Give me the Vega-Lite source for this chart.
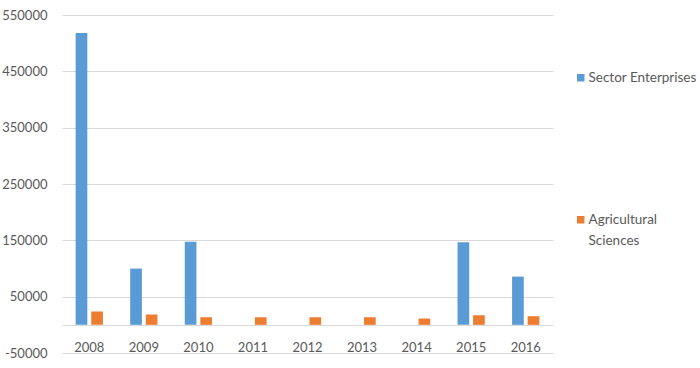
{
  "$schema": "https://vega.github.io/schema/vega-lite/v6.json",
  "width": 491,
  "height": 338,
  "autosize": "none",
  "padding": {"left": 62, "top": 15, "right": 147, "bottom": 15},
  "background": "white",
  "config": {
    "view": {"stroke": null},
    "font": "Lato",
    "style": {"guide-label": {"lineHeight": 21}},
    "axis": {"labelFont": "Lato", "labelFontSize": 13, "labelColor": "#595959", "ticks": false, "title": null, "gridColor": "#D9D9D9", "domainColor": "#D9D9D9"},
    "legend": {"labelFont": "Lato", "labelFontSize": 13.5, "labelColor": "#595959"}
  },
  "data": {
    "values": [
      {"year": "2008", "series": "Sector Enterprises", "value": 518000},
      {"year": "2008", "series": "Agricultural Sciences", "value": 23500},
      {"year": "2009", "series": "Sector Enterprises", "value": 99800},
      {"year": "2009", "series": "Agricultural Sciences", "value": 18300},
      {"year": "2010", "series": "Sector Enterprises", "value": 147700},
      {"year": "2010", "series": "Agricultural Sciences", "value": 13500},
      {"year": "2011", "series": "Agricultural Sciences", "value": 13500},
      {"year": "2012", "series": "Agricultural Sciences", "value": 13500},
      {"year": "2013", "series": "Agricultural Sciences", "value": 13500},
      {"year": "2014", "series": "Agricultural Sciences", "value": 11200},
      {"year": "2015", "series": "Sector Enterprises", "value": 146500},
      {"year": "2015", "series": "Agricultural Sciences", "value": 17000},
      {"year": "2016", "series": "Sector Enterprises", "value": 85600},
      {"year": "2016", "series": "Agricultural Sciences", "value": 15300}
    ]
  },
  "mark": {"type": "bar"},
  "encoding": {
    "x": {
      "field": "year", "type": "nominal",
      "scale": {"paddingInner": 0.5, "paddingOuter": 0.25},
      "axis": {"labelAngle": 0, "offset": -28, "grid": false, "domain": true, "labelPadding": 16, "labelBaseline": "top"}
    },
    "xOffset": {
      "field": "series", "type": "nominal",
      "scale": {"domain": ["Sector Enterprises", "Agricultural Sciences"], "paddingInner": 0.25, "paddingOuter": 0}
    },
    "y": {
      "field": "value", "type": "quantitative",
      "scale": {"domain": [-50000, 550000], "nice": false, "zero": false},
      "axis": {"values": [-50000, 50000, 150000, 250000, 350000, 450000, 550000], "labelExpr": "datum.value < 0 ? '-' + format(-datum.value, 'd') : format(datum.value, 'd')", "domain": false, "labelPadding": 15}
    },
    "color": {
      "field": "series", "type": "nominal",
      "scale": {"domain": ["Sector Enterprises", "Agricultural Sciences"], "range": ["#5B9BD5", "#ED7D31"]},
      "legend": {
        "title": null, "orient": "none", "legendX": 512, "legendY": 56,
        "symbolType": "square", "symbolSize": 56, "symbolStrokeWidth": 0,
        "labelOffset": 1, "rowPadding": 106, "padding": 0,
        "labelExpr": "datum.label == 'Agricultural Sciences' ? ['Agricultural', 'Sciences'] : [datum.label, '']"
      }
    }
  }
}
